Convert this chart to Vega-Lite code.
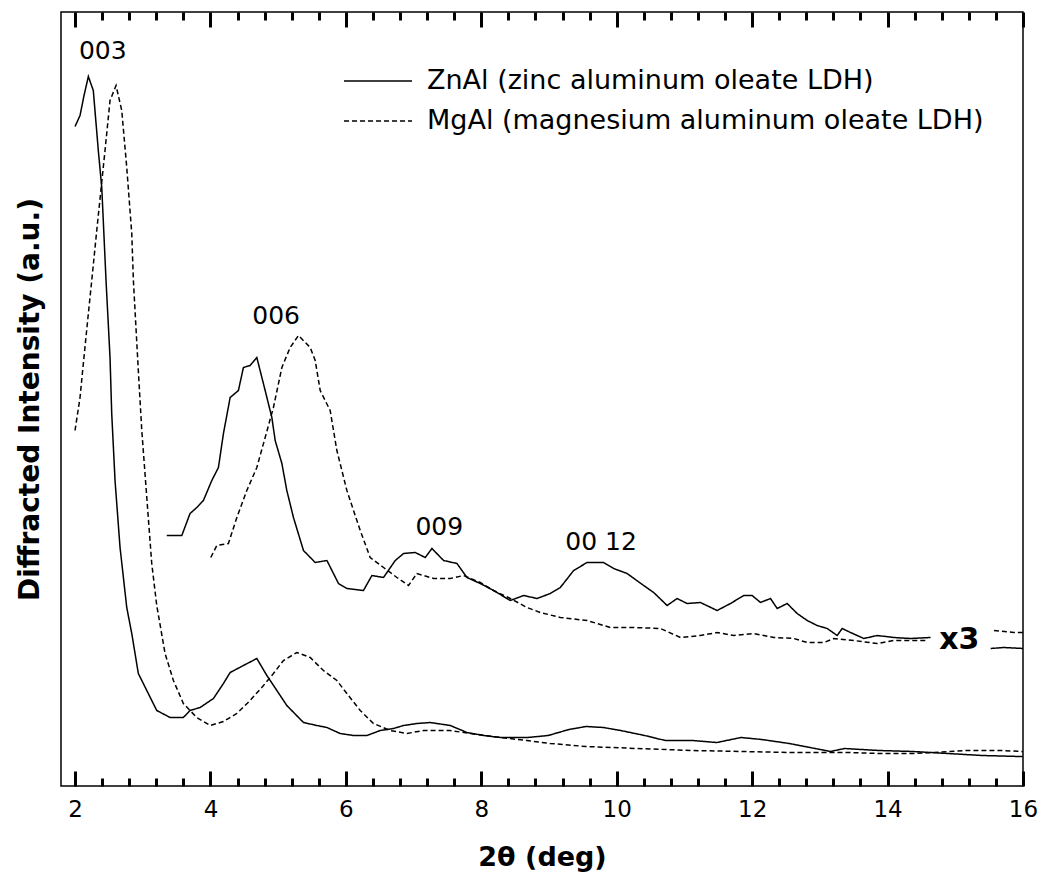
{
  "$schema": "https://vega.github.io/schema/vega-lite/v6.json",
  "width": 962,
  "height": 774,
  "autosize": "none",
  "padding": {"left": 61, "top": 12, "right": 19, "bottom": 92},
  "background": "white",
  "config": {
    "font": "DejaVu Sans",
    "view": {"stroke": "black", "strokeWidth": 1.5}
  },
  "datasets": {
    "curves": [
      {"sample":"ZnAl","trace":"x1","theta":2.000,"intensity":659.5},
      {"sample":"ZnAl","trace":"x1","theta":2.074,"intensity":670.5},
      {"sample":"ZnAl","trace":"x1","theta":2.133,"intensity":690.5},
      {"sample":"ZnAl","trace":"x1","theta":2.197,"intensity":709.5},
      {"sample":"ZnAl","trace":"x1","theta":2.270,"intensity":695.5},
      {"sample":"ZnAl","trace":"x1","theta":2.344,"intensity":635.5},
      {"sample":"ZnAl","trace":"x1","theta":2.395,"intensity":598.5},
      {"sample":"ZnAl","trace":"x1","theta":2.458,"intensity":505.5},
      {"sample":"ZnAl","trace":"x1","theta":2.517,"intensity":428.5},
      {"sample":"ZnAl","trace":"x1","theta":2.542,"intensity":372.5},
      {"sample":"ZnAl","trace":"x1","theta":2.591,"intensity":305.5},
      {"sample":"ZnAl","trace":"x1","theta":2.665,"intensity":238.5},
      {"sample":"ZnAl","trace":"x1","theta":2.764,"intensity":178.5},
      {"sample":"ZnAl","trace":"x1","theta":2.838,"intensity":152.5},
      {"sample":"ZnAl","trace":"x1","theta":2.935,"intensity":112.5},
      {"sample":"ZnAl","trace":"x1","theta":3.060,"intensity":95.5},
      {"sample":"ZnAl","trace":"x1","theta":3.207,"intensity":75.5},
      {"sample":"ZnAl","trace":"x1","theta":3.404,"intensity":68.5},
      {"sample":"ZnAl","trace":"x1","theta":3.600,"intensity":68.5},
      {"sample":"ZnAl","trace":"x1","theta":3.699,"intensity":75.5},
      {"sample":"ZnAl","trace":"x1","theta":3.847,"intensity":78.5},
      {"sample":"ZnAl","trace":"x1","theta":4.044,"intensity":87.5},
      {"sample":"ZnAl","trace":"x1","theta":4.192,"intensity":102.5},
      {"sample":"ZnAl","trace":"x1","theta":4.291,"intensity":113.5},
      {"sample":"ZnAl","trace":"x1","theta":4.487,"intensity":120.5},
      {"sample":"ZnAl","trace":"x1","theta":4.685,"intensity":127.5},
      {"sample":"ZnAl","trace":"x1","theta":4.833,"intensity":110.5},
      {"sample":"ZnAl","trace":"x1","theta":4.981,"intensity":95.5},
      {"sample":"ZnAl","trace":"x1","theta":5.128,"intensity":80.5},
      {"sample":"ZnAl","trace":"x1","theta":5.374,"intensity":63.5},
      {"sample":"ZnAl","trace":"x1","theta":5.572,"intensity":60.5},
      {"sample":"ZnAl","trace":"x1","theta":5.720,"intensity":58.5},
      {"sample":"ZnAl","trace":"x1","theta":5.916,"intensity":52.5},
      {"sample":"ZnAl","trace":"x1","theta":6.113,"intensity":50.5},
      {"sample":"ZnAl","trace":"x1","theta":6.311,"intensity":50.5},
      {"sample":"ZnAl","trace":"x1","theta":6.507,"intensity":55.5},
      {"sample":"ZnAl","trace":"x1","theta":6.704,"intensity":57.5},
      {"sample":"ZnAl","trace":"x1","theta":6.852,"intensity":60.5},
      {"sample":"ZnAl","trace":"x1","theta":7.050,"intensity":62.5},
      {"sample":"ZnAl","trace":"x1","theta":7.246,"intensity":63.5},
      {"sample":"ZnAl","trace":"x1","theta":7.542,"intensity":60.5},
      {"sample":"ZnAl","trace":"x1","theta":7.788,"intensity":53.5},
      {"sample":"ZnAl","trace":"x1","theta":8.034,"intensity":50.5},
      {"sample":"ZnAl","trace":"x1","theta":8.281,"intensity":48.5},
      {"sample":"ZnAl","trace":"x1","theta":8.684,"intensity":48.5},
      {"sample":"ZnAl","trace":"x1","theta":8.989,"intensity":50.5},
      {"sample":"ZnAl","trace":"x1","theta":9.294,"intensity":56.5},
      {"sample":"ZnAl","trace":"x1","theta":9.547,"intensity":59.5},
      {"sample":"ZnAl","trace":"x1","theta":9.802,"intensity":58.5},
      {"sample":"ZnAl","trace":"x1","theta":10.058,"intensity":55.5},
      {"sample":"ZnAl","trace":"x1","theta":10.412,"intensity":50.5},
      {"sample":"ZnAl","trace":"x1","theta":10.718,"intensity":45.5},
      {"sample":"ZnAl","trace":"x1","theta":11.126,"intensity":45.5},
      {"sample":"ZnAl","trace":"x1","theta":11.480,"intensity":43.5},
      {"sample":"ZnAl","trace":"x1","theta":11.836,"intensity":48.5},
      {"sample":"ZnAl","trace":"x1","theta":12.142,"intensity":46.5},
      {"sample":"ZnAl","trace":"x1","theta":12.548,"intensity":42.5},
      {"sample":"ZnAl","trace":"x1","theta":12.854,"intensity":38.5},
      {"sample":"ZnAl","trace":"x1","theta":13.159,"intensity":34.5},
      {"sample":"ZnAl","trace":"x1","theta":13.362,"intensity":37.5},
      {"sample":"ZnAl","trace":"x1","theta":13.871,"intensity":35.5},
      {"sample":"ZnAl","trace":"x1","theta":14.380,"intensity":34.5},
      {"sample":"ZnAl","trace":"x1","theta":14.887,"intensity":32.5},
      {"sample":"ZnAl","trace":"x1","theta":15.397,"intensity":30.5},
      {"sample":"ZnAl","trace":"x1","theta":15.955,"intensity":29.5},
      {"sample":"ZnAl","trace":"x1","theta":16.000,"intensity":29.5},

      {"sample":"MgAl","trace":"x1","theta":2.000,"intensity":355.5},
      {"sample":"MgAl","trace":"x1","theta":2.074,"intensity":388.5},
      {"sample":"MgAl","trace":"x1","theta":2.123,"intensity":422.5},
      {"sample":"MgAl","trace":"x1","theta":2.197,"intensity":472.5},
      {"sample":"MgAl","trace":"x1","theta":2.247,"intensity":505.5},
      {"sample":"MgAl","trace":"x1","theta":2.321,"intensity":555.5},
      {"sample":"MgAl","trace":"x1","theta":2.443,"intensity":635.5},
      {"sample":"MgAl","trace":"x1","theta":2.517,"intensity":685.5},
      {"sample":"MgAl","trace":"x1","theta":2.606,"intensity":700.5},
      {"sample":"MgAl","trace":"x1","theta":2.690,"intensity":675.5},
      {"sample":"MgAl","trace":"x1","theta":2.764,"intensity":618.5},
      {"sample":"MgAl","trace":"x1","theta":2.838,"intensity":552.5},
      {"sample":"MgAl","trace":"x1","theta":2.862,"intensity":505.5},
      {"sample":"MgAl","trace":"x1","theta":2.935,"intensity":415.5},
      {"sample":"MgAl","trace":"x1","theta":2.986,"intensity":355.5},
      {"sample":"MgAl","trace":"x1","theta":3.060,"intensity":288.5},
      {"sample":"MgAl","trace":"x1","theta":3.133,"intensity":222.5},
      {"sample":"MgAl","trace":"x1","theta":3.207,"intensity":180.5},
      {"sample":"MgAl","trace":"x1","theta":3.330,"intensity":132.5},
      {"sample":"MgAl","trace":"x1","theta":3.453,"intensity":105.5},
      {"sample":"MgAl","trace":"x1","theta":3.600,"intensity":82.5},
      {"sample":"MgAl","trace":"x1","theta":3.798,"intensity":68.5},
      {"sample":"MgAl","trace":"x1","theta":3.995,"intensity":60.5},
      {"sample":"MgAl","trace":"x1","theta":4.192,"intensity":64.5},
      {"sample":"MgAl","trace":"x1","theta":4.390,"intensity":72.5},
      {"sample":"MgAl","trace":"x1","theta":4.586,"intensity":85.5},
      {"sample":"MgAl","trace":"x1","theta":4.783,"intensity":100.5},
      {"sample":"MgAl","trace":"x1","theta":4.930,"intensity":112.5},
      {"sample":"MgAl","trace":"x1","theta":5.078,"intensity":125.5},
      {"sample":"MgAl","trace":"x1","theta":5.276,"intensity":133.5},
      {"sample":"MgAl","trace":"x1","theta":5.473,"intensity":128.5},
      {"sample":"MgAl","trace":"x1","theta":5.669,"intensity":115.5},
      {"sample":"MgAl","trace":"x1","theta":5.867,"intensity":105.5},
      {"sample":"MgAl","trace":"x1","theta":6.015,"intensity":92.5},
      {"sample":"MgAl","trace":"x1","theta":6.212,"intensity":75.5},
      {"sample":"MgAl","trace":"x1","theta":6.408,"intensity":62.5},
      {"sample":"MgAl","trace":"x1","theta":6.655,"intensity":55.5},
      {"sample":"MgAl","trace":"x1","theta":6.902,"intensity":52.5},
      {"sample":"MgAl","trace":"x1","theta":7.147,"intensity":55.5},
      {"sample":"MgAl","trace":"x1","theta":7.542,"intensity":55.5},
      {"sample":"MgAl","trace":"x1","theta":7.837,"intensity":52.5},
      {"sample":"MgAl","trace":"x1","theta":8.281,"intensity":48.5},
      {"sample":"MgAl","trace":"x1","theta":8.675,"intensity":45.5},
      {"sample":"MgAl","trace":"x1","theta":9.020,"intensity":42.5},
      {"sample":"MgAl","trace":"x1","theta":9.547,"intensity":39.5},
      {"sample":"MgAl","trace":"x1","theta":10.311,"intensity":37.5},
      {"sample":"MgAl","trace":"x1","theta":11.114,"intensity":35.5},
      {"sample":"MgAl","trace":"x1","theta":11.836,"intensity":34.5},
      {"sample":"MgAl","trace":"x1","theta":12.585,"intensity":33.5},
      {"sample":"MgAl","trace":"x1","theta":13.391,"intensity":33.5},
      {"sample":"MgAl","trace":"x1","theta":13.904,"intensity":32.5},
      {"sample":"MgAl","trace":"x1","theta":14.409,"intensity":32.5},
      {"sample":"MgAl","trace":"x1","theta":15.172,"intensity":35.5},
      {"sample":"MgAl","trace":"x1","theta":15.681,"intensity":35.5},
      {"sample":"MgAl","trace":"x1","theta":16.000,"intensity":34.5},

      {"sample":"ZnAl","trace":"x3","theta":3.355,"intensity":250.5},
      {"sample":"ZnAl","trace":"x3","theta":3.577,"intensity":250.5},
      {"sample":"ZnAl","trace":"x3","theta":3.699,"intensity":272.5},
      {"sample":"ZnAl","trace":"x3","theta":3.798,"intensity":278.5},
      {"sample":"ZnAl","trace":"x3","theta":3.896,"intensity":285.5},
      {"sample":"ZnAl","trace":"x3","theta":4.020,"intensity":305.5},
      {"sample":"ZnAl","trace":"x3","theta":4.118,"intensity":318.5},
      {"sample":"ZnAl","trace":"x3","theta":4.192,"intensity":352.5},
      {"sample":"ZnAl","trace":"x3","theta":4.291,"intensity":388.5},
      {"sample":"ZnAl","trace":"x3","theta":4.413,"intensity":395.5},
      {"sample":"ZnAl","trace":"x3","theta":4.487,"intensity":418.5},
      {"sample":"ZnAl","trace":"x3","theta":4.586,"intensity":420.5},
      {"sample":"ZnAl","trace":"x3","theta":4.685,"intensity":428.5},
      {"sample":"ZnAl","trace":"x3","theta":4.808,"intensity":395.5},
      {"sample":"ZnAl","trace":"x3","theta":4.907,"intensity":368.5},
      {"sample":"ZnAl","trace":"x3","theta":4.956,"intensity":345.5},
      {"sample":"ZnAl","trace":"x3","theta":5.055,"intensity":322.5},
      {"sample":"ZnAl","trace":"x3","theta":5.128,"intensity":295.5},
      {"sample":"ZnAl","trace":"x3","theta":5.226,"intensity":268.5},
      {"sample":"ZnAl","trace":"x3","theta":5.374,"intensity":235.5},
      {"sample":"ZnAl","trace":"x3","theta":5.547,"intensity":223.5},
      {"sample":"ZnAl","trace":"x3","theta":5.720,"intensity":225.5},
      {"sample":"ZnAl","trace":"x3","theta":5.891,"intensity":202.5},
      {"sample":"ZnAl","trace":"x3","theta":6.015,"intensity":197.5},
      {"sample":"ZnAl","trace":"x3","theta":6.260,"intensity":195.5},
      {"sample":"ZnAl","trace":"x3","theta":6.385,"intensity":210.5},
      {"sample":"ZnAl","trace":"x3","theta":6.556,"intensity":208.5},
      {"sample":"ZnAl","trace":"x3","theta":6.729,"intensity":225.5},
      {"sample":"ZnAl","trace":"x3","theta":6.852,"intensity":232.5},
      {"sample":"ZnAl","trace":"x3","theta":7.024,"intensity":233.5},
      {"sample":"ZnAl","trace":"x3","theta":7.172,"intensity":228.5},
      {"sample":"ZnAl","trace":"x3","theta":7.271,"intensity":237.5},
      {"sample":"ZnAl","trace":"x3","theta":7.443,"intensity":225.5},
      {"sample":"ZnAl","trace":"x3","theta":7.641,"intensity":222.5},
      {"sample":"ZnAl","trace":"x3","theta":7.788,"intensity":208.5},
      {"sample":"ZnAl","trace":"x3","theta":7.985,"intensity":202.5},
      {"sample":"ZnAl","trace":"x3","theta":8.181,"intensity":195.5},
      {"sample":"ZnAl","trace":"x3","theta":8.428,"intensity":185.5},
      {"sample":"ZnAl","trace":"x3","theta":8.625,"intensity":190.5},
      {"sample":"ZnAl","trace":"x3","theta":8.823,"intensity":187.5},
      {"sample":"ZnAl","trace":"x3","theta":9.019,"intensity":192.5},
      {"sample":"ZnAl","trace":"x3","theta":9.167,"intensity":198.5},
      {"sample":"ZnAl","trace":"x3","theta":9.364,"intensity":215.5},
      {"sample":"ZnAl","trace":"x3","theta":9.562,"intensity":223.5},
      {"sample":"ZnAl","trace":"x3","theta":9.807,"intensity":223.5},
      {"sample":"ZnAl","trace":"x3","theta":9.955,"intensity":217.5},
      {"sample":"ZnAl","trace":"x3","theta":10.153,"intensity":212.5},
      {"sample":"ZnAl","trace":"x3","theta":10.398,"intensity":200.5},
      {"sample":"ZnAl","trace":"x3","theta":10.546,"intensity":193.5},
      {"sample":"ZnAl","trace":"x3","theta":10.744,"intensity":180.5},
      {"sample":"ZnAl","trace":"x3","theta":10.892,"intensity":187.5},
      {"sample":"ZnAl","trace":"x3","theta":11.039,"intensity":182.5},
      {"sample":"ZnAl","trace":"x3","theta":11.236,"intensity":183.5},
      {"sample":"ZnAl","trace":"x3","theta":11.483,"intensity":175.5},
      {"sample":"ZnAl","trace":"x3","theta":11.680,"intensity":182.5},
      {"sample":"ZnAl","trace":"x3","theta":11.876,"intensity":190.5},
      {"sample":"ZnAl","trace":"x3","theta":12.000,"intensity":190.5},
      {"sample":"ZnAl","trace":"x3","theta":12.123,"intensity":183.5},
      {"sample":"ZnAl","trace":"x3","theta":12.271,"intensity":187.5},
      {"sample":"ZnAl","trace":"x3","theta":12.370,"intensity":177.5},
      {"sample":"ZnAl","trace":"x3","theta":12.517,"intensity":182.5},
      {"sample":"ZnAl","trace":"x3","theta":12.665,"intensity":172.5},
      {"sample":"ZnAl","trace":"x3","theta":12.813,"intensity":165.5},
      {"sample":"ZnAl","trace":"x3","theta":12.960,"intensity":160.5},
      {"sample":"ZnAl","trace":"x3","theta":13.108,"intensity":157.5},
      {"sample":"ZnAl","trace":"x3","theta":13.256,"intensity":150.5},
      {"sample":"ZnAl","trace":"x3","theta":13.330,"intensity":157.5},
      {"sample":"ZnAl","trace":"x3","theta":13.453,"intensity":153.5},
      {"sample":"ZnAl","trace":"x3","theta":13.649,"intensity":147.5},
      {"sample":"ZnAl","trace":"x3","theta":13.847,"intensity":150.5},
      {"sample":"ZnAl","trace":"x3","theta":14.093,"intensity":148.5},
      {"sample":"ZnAl","trace":"x3","theta":14.339,"intensity":147.5},
      {"sample":"ZnAl","trace":"x3","theta":14.635,"intensity":148.5},
      {"sample":"ZnAl","trace":"x3 end","theta":15.522,"intensity":137.5},
      {"sample":"ZnAl","trace":"x3 end","theta":15.718,"intensity":138.5},
      {"sample":"ZnAl","trace":"x3 end","theta":16.000,"intensity":137.5},

      {"sample":"MgAl","trace":"x3","theta":4.005,"intensity":228.5},
      {"sample":"MgAl","trace":"x3","theta":4.094,"intensity":240.5},
      {"sample":"MgAl","trace":"x3","theta":4.265,"intensity":242.5},
      {"sample":"MgAl","trace":"x3","theta":4.390,"intensity":268.5},
      {"sample":"MgAl","trace":"x3","theta":4.537,"intensity":295.5},
      {"sample":"MgAl","trace":"x3","theta":4.685,"intensity":318.5},
      {"sample":"MgAl","trace":"x3","theta":4.808,"intensity":348.5},
      {"sample":"MgAl","trace":"x3","theta":4.930,"intensity":378.5},
      {"sample":"MgAl","trace":"x3","theta":5.055,"intensity":418.5},
      {"sample":"MgAl","trace":"x3","theta":5.177,"intensity":438.5},
      {"sample":"MgAl","trace":"x3","theta":5.300,"intensity":450.5},
      {"sample":"MgAl","trace":"x3","theta":5.473,"intensity":438.5},
      {"sample":"MgAl","trace":"x3","theta":5.547,"intensity":425.5},
      {"sample":"MgAl","trace":"x3","theta":5.621,"intensity":395.5},
      {"sample":"MgAl","trace":"x3","theta":5.768,"intensity":375.5},
      {"sample":"MgAl","trace":"x3","theta":5.867,"intensity":335.5},
      {"sample":"MgAl","trace":"x3","theta":6.015,"intensity":295.5},
      {"sample":"MgAl","trace":"x3","theta":6.212,"intensity":255.5},
      {"sample":"MgAl","trace":"x3","theta":6.359,"intensity":228.5},
      {"sample":"MgAl","trace":"x3","theta":6.556,"intensity":218.5},
      {"sample":"MgAl","trace":"x3","theta":6.754,"intensity":208.5},
      {"sample":"MgAl","trace":"x3","theta":6.925,"intensity":200.5},
      {"sample":"MgAl","trace":"x3","theta":7.049,"intensity":212.5},
      {"sample":"MgAl","trace":"x3","theta":7.295,"intensity":207.5},
      {"sample":"MgAl","trace":"x3","theta":7.542,"intensity":207.5},
      {"sample":"MgAl","trace":"x3","theta":7.738,"intensity":210.5},
      {"sample":"MgAl","trace":"x3","theta":7.985,"intensity":203.5},
      {"sample":"MgAl","trace":"x3","theta":8.181,"intensity":195.5},
      {"sample":"MgAl","trace":"x3","theta":8.428,"intensity":187.5},
      {"sample":"MgAl","trace":"x3","theta":8.675,"intensity":178.5},
      {"sample":"MgAl","trace":"x3","theta":8.872,"intensity":173.5},
      {"sample":"MgAl","trace":"x3","theta":9.167,"intensity":168.5},
      {"sample":"MgAl","trace":"x3","theta":9.562,"intensity":165.5},
      {"sample":"MgAl","trace":"x3","theta":9.906,"intensity":158.5},
      {"sample":"MgAl","trace":"x3","theta":10.250,"intensity":158.5},
      {"sample":"MgAl","trace":"x3","theta":10.645,"intensity":157.5},
      {"sample":"MgAl","trace":"x3","theta":10.941,"intensity":148.5},
      {"sample":"MgAl","trace":"x3","theta":11.236,"intensity":150.5},
      {"sample":"MgAl","trace":"x3","theta":11.483,"intensity":153.5},
      {"sample":"MgAl","trace":"x3","theta":11.729,"intensity":150.5},
      {"sample":"MgAl","trace":"x3","theta":12.024,"intensity":152.5},
      {"sample":"MgAl","trace":"x3","theta":12.320,"intensity":148.5},
      {"sample":"MgAl","trace":"x3","theta":12.615,"intensity":147.5},
      {"sample":"MgAl","trace":"x3","theta":12.813,"intensity":143.5},
      {"sample":"MgAl","trace":"x3","theta":13.059,"intensity":143.5},
      {"sample":"MgAl","trace":"x3","theta":13.206,"intensity":147.5},
      {"sample":"MgAl","trace":"x3","theta":13.502,"intensity":145.5},
      {"sample":"MgAl","trace":"x3","theta":13.847,"intensity":142.5},
      {"sample":"MgAl","trace":"x3","theta":14.093,"intensity":145.5},
      {"sample":"MgAl","trace":"x3","theta":14.586,"intensity":145.5},
      {"sample":"MgAl","trace":"x3 end","theta":15.571,"intensity":155.5},
      {"sample":"MgAl","trace":"x3 end","theta":15.866,"intensity":153.5},
      {"sample":"MgAl","trace":"x3 end","theta":16.000,"intensity":153.5}
    ],
    "peaks": [
      {"label":"003","theta":2.41,"intensity":735.5},
      {"label":"006","theta":4.97,"intensity":470.5},
      {"label":"009","theta":7.38,"intensity":259.5},
      {"label":"00 12","theta":9.77,"intensity":244}
    ],
    "scale": [
      {"label":"x3","theta":15.06,"intensity":146.5}
    ]
  },
  "encoding": {
    "y": {
      "field": "intensity", "type": "quantitative",
      "scale": {"domain": [0, 774], "nice": false, "zero": false},
      "axis": {
        "title": "Diffracted Intensity (a.u.)", "ticks": false, "labels": false,
        "domain": false, "grid": false, "titleFontSize": 28, "titleFontWeight": "bold",
        "titleColor": "black", "titlePadding": 17, "titleFont": "DejaVu Sans"
      }
    }
  },
  "layer": [
    {
      "data": {"name": "curves"},
      "transform": [{"filter": "datum.trace == 'x1' && datum.sample == 'ZnAl'"}],
      "mark": {"type": "line", "color": "black", "strokeWidth": 1.5},
      "encoding": {
        "x": {
          "field": "theta", "type": "quantitative",
          "scale": {"domain": [1.793, 16], "nice": false, "zero": false},
          "axis": {
            "orient": "bottom",
            "values": [2,4,6,8,10,12,14,16],
            "ticks": false, "tickSize": 0,
            "labelFontSize": 23, "labelColor": "black", "labelPadding": 12,
            "labelFlush": false, "labelOverlap": false, "labelFont": "DejaVu Sans",
            "domain": false, "grid": false,
            "title": "2θ (deg)", "titleFontSize": 27, "titleFontWeight": "bold",
            "titleColor": "black", "titlePadding": 23, "titleFont": "DejaVu Sans"
          }
        },
        "strokeDash": {
          "field": "sample", "type": "nominal",
          "scale": {"domain": ["ZnAl", "MgAl"], "range": [[1, 0], [5, 3]]},
          "legend": {
            "orient": "none", "legendX": 282, "legendY": 49, "title": null,
            "symbolType": "stroke", "symbolSize": 4624, "symbolStrokeWidth": 1.5,
            "symbolStrokeColor": "black", "labelFontSize": 27, "labelColor": "black",
            "labelFont": "DejaVu Sans", "labelOffset": 14, "labelLimit": 800,
            "clipHeight": 40, "rowPadding": 0,
            "labelExpr": "datum.label == 'ZnAl' ? 'ZnAl (zinc aluminum oleate LDH)' : 'MgAl (magnesium aluminum oleate LDH)'"
          }
        },
        "detail": {"field": "trace", "type": "nominal"}
      }
    },
    {
      "data": {"name": "curves"},
      "transform": [{"filter": "datum.trace == 'x1' && datum.sample == 'MgAl'"}],
      "mark": {"type": "line", "color": "black", "strokeWidth": 1.5},
      "encoding": {
        "x": {
          "field": "theta", "type": "quantitative",
          "axis": {
            "orient": "top", "offset": -774,
            "values": [2,4,6,8,10,12,14,16],
            "tickSize": 15, "tickColor": "black", "tickWidth": 3,
            "labelColor": "transparent", "domainColor": "transparent", "grid": false, "title": null
          }
        },
        "strokeDash": {"field": "sample", "type": "nominal"},
        "detail": {"field": "trace", "type": "nominal"}
      }
    },
    {
      "data": {"name": "curves"},
      "transform": [{"filter": "datum.trace != 'x1'"}],
      "mark": {"type": "line", "color": "black", "strokeWidth": 1.5},
      "encoding": {
        "x": {
          "field": "theta", "type": "quantitative",
          "axis": {
            "orient": "top", "offset": -15,
            "values": [2,4,6,8,10,12,14,16],
            "tickSize": 15, "tickColor": "black", "tickWidth": 3,
            "labelColor": "transparent", "domainColor": "transparent", "grid": false, "title": null
          }
        },
        "strokeDash": {"field": "sample", "type": "nominal"},
        "detail": {"field": "trace", "type": "nominal"}
      }
    },
    {
      "data": {"name": "peaks"},
      "mark": {"type": "text", "fontSize": 25, "color": "black", "align": "center", "baseline": "middle", "font": "DejaVu Sans"},
      "encoding": {
        "x": {
          "field": "theta", "type": "quantitative",
          "axis": {
            "orient": "top", "offset": -8,
            "values": [2.4,2.8,3.2,3.6,4.4,4.8,5.2,5.6,6.4,6.8,7.2,7.6,8.4,8.8,9.2,9.6,10.4,10.8,11.2,11.6,12.4,12.8,13.2,13.6,14.4,14.8,15.2,15.6],
            "tickSize": 8, "tickColor": "black", "tickWidth": 3,
            "labelColor": "transparent", "domainColor": "transparent", "grid": false, "title": null
          }
        },
        "text": {"field": "label", "type": "nominal"}
      }
    },
    {
      "data": {"name": "scale"},
      "mark": {"type": "text", "fontSize": 30, "fontWeight": "bold", "color": "black", "align": "center", "baseline": "middle", "font": "DejaVu Sans"},
      "encoding": {
        "x": {
          "field": "theta", "type": "quantitative",
          "axis": {
            "orient": "top", "offset": -774,
            "values": [2.4,2.8,3.2,3.6,4.4,4.8,5.2,5.6,6.4,6.8,7.2,7.6,8.4,8.8,9.2,9.6,10.4,10.8,11.2,11.6,12.4,12.8,13.2,13.6,14.4,14.8,15.2,15.6],
            "tickSize": 8, "tickColor": "black", "tickWidth": 3,
            "labelColor": "transparent", "domainColor": "transparent", "grid": false, "title": null
          }
        },
        "text": {"field": "label", "type": "nominal"}
      }
    }
  ],
  "resolve": {"axis": {"x": "independent"}}
}
